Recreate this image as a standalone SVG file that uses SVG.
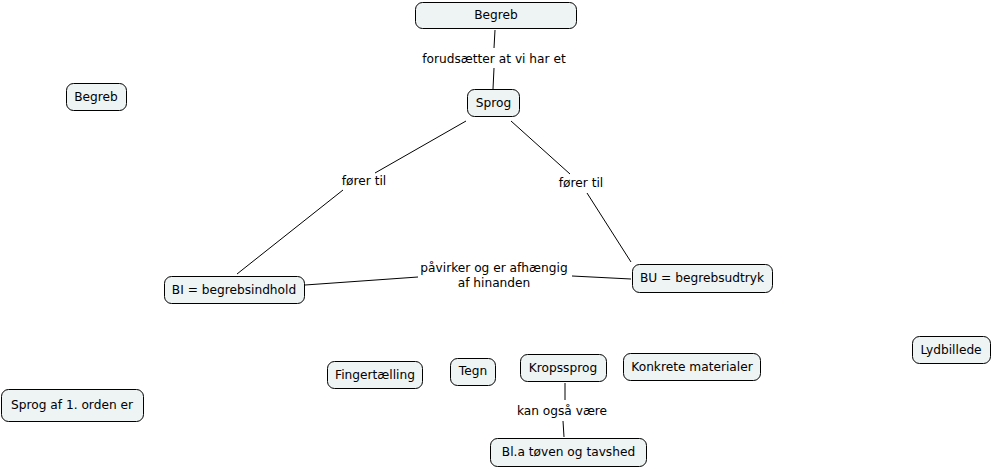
<svg xmlns="http://www.w3.org/2000/svg" width="992" height="469" viewBox="0 0 992 469">
<style>
.n rect{fill:#eef3f4;stroke:#000;stroke-width:1}
text{font-family:"DejaVu Sans",Verdana,sans-serif;font-size:12.2px;fill:#000;text-anchor:middle;dominant-baseline:central}
.c line{stroke:#000;stroke-width:1}
</style>
<rect width="992" height="469" fill="#fff"/>
<g class="c" id="connectors">
<line x1="495" y1="30" x2="494" y2="48"/>
<line x1="494" y1="68" x2="493" y2="89"/>
<text x="494" y="59">forudsætter at vi har et</text>
<line x1="466" y1="121" x2="375" y2="173"/>
<line x1="343" y1="190" x2="237" y2="274"/>
<text x="364" y="181">fører til</text>
<line x1="511" y1="121" x2="570" y2="174"/>
<line x1="587" y1="193" x2="631" y2="262"/>
<text x="581" y="183">fører til</text>
<line x1="305" y1="285" x2="418" y2="277"/>
<line x1="572" y1="276" x2="631" y2="279"/>
<text x="494" y="268">påvirker og er afhængig</text>
<text x="494" y="283">af hinanden</text>
<line x1="565" y1="383" x2="565" y2="400"/>
<line x1="563" y1="421" x2="564" y2="437"/>
<text x="562" y="411">kan også være</text>
</g>
<g class="n" id="begreb1"><rect x="415.5" y="2.5" width="161" height="26" rx="7"/><text x="496" y="15">Begreb</text></g>
<g class="n" id="sprog"><rect x="467.5" y="89.5" width="52" height="27" rx="7"/><text x="493.5" y="103">Sprog</text></g>
<g class="n" id="begreb2"><rect x="66.5" y="83.5" width="60" height="27" rx="7"/><text x="96" y="97">Begreb</text></g>
<g class="n" id="bi"><rect x="164.5" y="276.5" width="140" height="27" rx="7"/><text x="234" y="290">BI = begrebsindhold</text></g>
<g class="n" id="bu"><rect x="632.5" y="264.5" width="140" height="28" rx="7"/><text x="702" y="278">BU = begrebsudtryk</text></g>
<g class="n" id="finger"><rect x="327.5" y="361.5" width="95" height="27" rx="7"/><text x="375" y="375">Fingertælling</text></g>
<g class="n" id="tegn"><rect x="450.5" y="358.5" width="45" height="27" rx="7"/><text x="473" y="371">Tegn</text></g>
<g class="n" id="krop"><rect x="520.5" y="354.5" width="86" height="27" rx="7"/><text x="563" y="368">Kropssprog</text></g>
<g class="n" id="konkrete"><rect x="623.5" y="353.5" width="137" height="27" rx="7"/><text x="692" y="367">Konkrete materialer</text></g>
<g class="n" id="lyd"><rect x="912.5" y="336.5" width="78" height="27" rx="7"/><text x="951" y="350">Lydbillede</text></g>
<g class="n" id="sprog1"><rect x="1.5" y="389.5" width="142" height="32" rx="7"/><text x="72" y="405">Sprog af 1. orden er</text></g>
<g class="n" id="bla"><rect x="490.5" y="438.5" width="156" height="28" rx="7"/><text x="568.5" y="452">Bl.a tøven og tavshed</text></g>
</svg>
